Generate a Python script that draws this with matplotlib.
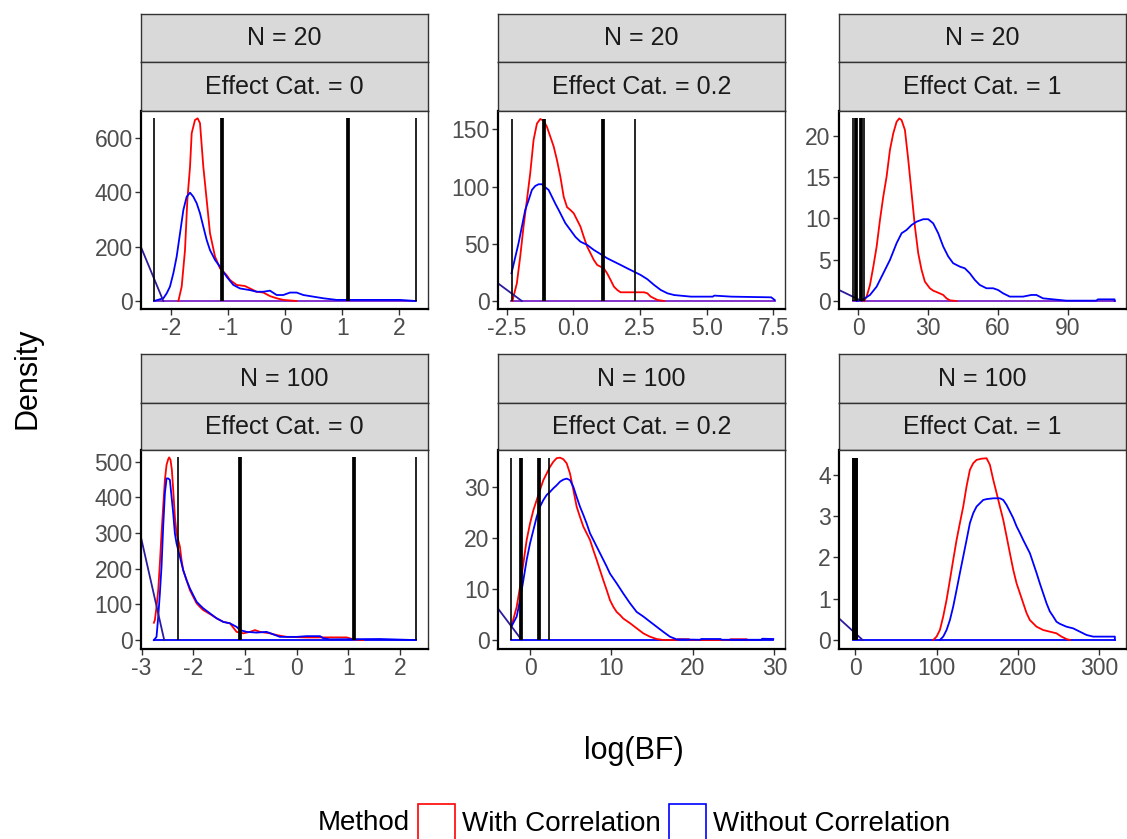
import matplotlib
matplotlib.use("Agg")
import matplotlib.pyplot as plt
from matplotlib.patches import Patch

plt.rcParams['font.family'] = ['Liberation Sans', 'DejaVu Sans']

W, H = 1127, 839

# Bayes factor cut-offs (log scale)
bf_thin = [-2.3, 2.3]
bf_thick = [-1.1, 1.1]

n_labels = ["N = 20", "N = 20", "N = 20", "N = 100", "N = 100", "N = 100"]
effect_labels = ["Effect Cat. = 0", "Effect Cat. = 0.2", "Effect Cat. = 1",
                 "Effect Cat. = 0", "Effect Cat. = 0.2", "Effect Cat. = 1"]

# ---- N = 20, effect 0
p1_red_x = [-1.871, -1.813, -1.755, -1.714, -1.667, -1.638, -1.580, -1.533, -1.492, -1.434, -1.375,
            -1.317, -1.229, -1.142, -1.025, -0.966, -0.850, -0.704, -0.616, -0.499, -0.382, -0.266,
            -0.149, -0.032, 0.20]
p1_red_y = [0, 53, 187, 371, 493, 616, 665, 671, 653, 493, 371, 249, 163, 120, 95, 77, 59, 55, 46,
            34, 31, 18, 10, 4, 0]
p1_blue_x = [-2.298, -2.134, -2.076, -2.018, -1.959, -1.901, -1.842, -1.784, -1.726, -1.667, -1.609,
             -1.550, -1.492, -1.434, -1.375, -1.317, -1.229, -1.142, -1.025, -0.908, -0.791, -0.616,
             -0.499, -0.382, -0.266, -0.149, -0.032, 0.085, 0.201, 0.318, 0.493, 0.669, 0.902,
             1.253, 2.012, 2.286]
p1_blue_y = [0, 10, 28, 53, 102, 163, 249, 334, 383, 398, 383, 359, 322, 273, 224, 187, 151, 126,
             89, 59, 46, 40, 34, 34, 38, 22, 22, 31, 31, 22, 16, 10, 4, 4, 4, 0]
p1_diag_x = [-2.53, -2.135]
p1_diag_y = [200, 0]
p1_base = [-2.298, 2.286]

# ---- N = 20, effect 0.2
p2_red_x = [-2.286, -2.249, -2.123, -1.997, -1.872, -1.746, -1.621, -1.495, -1.369, -1.244, -1.118,
            -0.992, -0.867, -0.741, -0.616, -0.490, -0.364, -0.239, -0.113, 0.013, 0.138, 0.264,
            0.389, 0.515, 0.641, 0.766, 0.892, 1.018, 1.143, 1.269, 1.394, 1.520, 1.646, 1.771,
            2.651, 2.776, 2.902, 3.153, 3.405]
p2_red_y = [0, 3.8, 15.4, 38.7, 65, 88, 111.6, 140.7, 155, 159, 157.6, 152, 143.6, 135, 123, 108.7,
            91, 82, 79.5, 76.6, 70.8, 65, 56, 47.5, 41.7, 35.8, 31.5, 30, 28.5, 24, 18.4, 12.5, 9.6,
            7.6, 7.6, 6.7, 3.8, 0.9, 0]
p2_blue_x = [-2.324, -2.060, -1.809, -1.683, -1.558, -1.432, -1.307, -1.181, -1.055, -0.930, -0.804,
             -0.678, -0.553, -0.427, -0.302, -0.113, 0.075, 0.264, 0.515, 0.766, 1.018, 1.269, 1.520,
             1.771, 2.023, 2.274, 2.525, 2.776, 3.028, 3.279, 3.530, 3.781, 4.410, 5.226, 5.289,
             5.917, 7.425, 7.550]
p2_blue_y = [24.2, 50.4, 79.5, 88, 97, 100.5, 102, 102, 99.3, 97, 91, 85, 79.5, 73.7, 68, 62, 56,
             51.8, 49, 44.6, 41, 37.3, 34.4, 31.5, 28.5, 25.6, 22.7, 19, 14, 9.6, 6.7, 5.2, 3.8,
             3.8, 4.7, 3.8, 3.2, 0.9]
p2_diag_x = [-2.83, -1.935]
p2_diag_y = [15.4, 0]
p2_base = [-2.324, 7.55]

# ---- N = 20, effect 1
p3_red_x = [2.43, 3.57, 5.0, 6.43, 7.86, 9.29, 10.71, 12.14, 13.57, 15.0, 16.43, 17.57, 18.57, 20.0,
            21.43, 22.86, 24.29, 25.71, 27.14, 28.57, 30.71, 32.14, 34.29, 36.43, 37.86, 39.29, 42.1]
p3_red_y = [0, 0.53, 1.94, 4.16, 6.59, 9.82, 12.65, 15.07, 18.3, 20.3, 21.7, 22.1, 21.9, 20.7, 17.1,
            13.05, 9.0, 5.78, 3.76, 2.34, 1.54, 1.25, 1.0, 0.73, 0.32, 0.08, 0]
p3_blue_x = [-0.71, 2.14, 5.0, 7.86, 10.71, 13.57, 16.43, 18.57, 20.71, 22.86, 25.0, 27.86, 30.0,
             32.14, 34.29, 36.43, 38.57, 40.71, 43.57, 45.71, 47.86, 50.0, 52.14, 55.0, 57.86, 60.0,
             62.14, 65.0, 70.71, 74.29, 76.43, 79.29, 83.57, 89.29, 102.1, 102.9, 110.0, 110.0]
p3_blue_y = [0, 0.2, 0.73, 1.74, 3.35, 4.97, 7.0, 8.2, 8.6, 9.2, 9.6, 9.9, 9.9, 9.4, 8.2, 6.6, 5.4,
             4.57, 4.16, 3.96, 3.35, 2.55, 1.94, 1.54, 1.54, 1.33, 0.93, 0.53, 0.53, 0.73, 0.73,
             0.32, 0.2, 0.04, 0.04, 0.2, 0.2, 0]
p3_diag_x = [-8.3, 1.5]
p3_diag_y = [1.33, 0]
p3_base = [-2.1, 110.0]

# ---- N = 100, effect 0
p4_red_x = [-2.761, -2.742, -2.710, -2.677, -2.645, -2.613, -2.581, -2.548, -2.516, -2.484, -2.465,
            -2.439, -2.413, -2.387, -2.355, -2.323, -2.290, -2.258, -2.226, -2.194, -2.129, -2.065,
            -2.0, -1.935, -1.871, -1.806, -1.677, -1.548, -1.419, -1.290, -1.161, -1.032, -0.903,
            -0.806, -0.710, -0.516, -0.387, -0.194, 0.194, 0.645, 0.968, 1.097, 1.29]
p4_red_y = [48.6, 56, 93, 140, 215, 299, 374, 449, 491, 507, 512, 505, 477, 421, 346, 299, 280, 262,
            224, 196, 168, 140, 121.5, 103, 93, 84, 73, 61, 51, 47, 23, 19, 23, 28, 23, 19, 14, 9,
            7.5, 7.5, 7.5, 2, 0]
p4_blue_x = [-2.761, -2.710, -2.677, -2.645, -2.613, -2.581, -2.548, -2.516, -2.484, -2.452, -2.419,
             -2.387, -2.355, -2.323, -2.258, -2.194, -2.129, -2.065, -2.0, -1.935, -1.871, -1.806,
             -1.677, -1.548, -1.419, -1.290, -1.161, -1.097, -0.968, -0.774, -0.581, -0.452, -0.323,
             0.0, 0.194, 0.452, 0.516, 0.645, 1.613, 2.303]
p4_blue_y = [0, 9, 65, 131, 206, 318, 411, 453, 453, 449, 402, 355, 299, 271, 234, 196, 168, 145,
             126, 107.5, 98, 89, 75, 61, 51, 47, 37, 28, 23, 21, 23, 16, 9, 9, 11, 11, 5, 2, 3, 0]
p4_diag_x = [-3.02, -2.561]
p4_diag_y = [294, 0]
p4_base = [-2.761, 2.303]

# ---- N = 100, effect 0.2
p5_red_x = [-2.29, -1.636, -1.227, -0.818, -0.409, 0.0, 0.409, 0.818, 1.227, 1.636, 2.045, 2.454,
            2.863, 3.272, 3.681, 4.090, 4.499, 4.908, 5.317, 5.726, 6.135, 6.544, 6.953, 7.362,
            7.771, 8.180, 8.589, 8.998, 9.407, 9.816, 10.225, 10.634, 11.043, 11.452, 12.27, 13.09,
            13.91, 14.72, 15.54, 16.36, 18.0, 18.1, 19.5, 19.6, 24.5, 24.6, 26.6, 26.7]
p5_red_y = [2.6, 6.5, 10.4, 15.0, 19.6, 22.8, 25.4, 27.4, 29.4, 31.3, 32.6, 33.9, 34.9, 35.6, 35.7,
            35.4, 34.6, 32.6, 29.4, 26.1, 24.1, 22.2, 20.9, 19.6, 17.6, 15.7, 13.7, 11.7, 9.8, 7.8,
            6.5, 5.5, 4.9, 4.2, 3.3, 2.3, 1.3, 0.65, 0.2, 0, 0, 0.15, 0.15, 0, 0, 0.15, 0.15, 0]
p5_blue_x = [-2.29, -1.636, -1.227, -0.818, -0.409, 0.0, 0.409, 0.818, 1.227, 1.636, 2.045, 2.454,
             2.863, 3.272, 3.681, 4.090, 4.499, 4.908, 5.317, 5.726, 6.135, 6.544, 6.953, 7.362,
             7.771, 8.180, 8.589, 8.998, 9.407, 9.816, 10.634, 11.452, 12.27, 13.09, 13.91, 14.72,
             15.54, 16.36, 17.18, 17.99, 20.9, 21.0, 23.4, 23.5, 28.4, 28.5, 29.86]
p5_blue_y = [2.6, 4.6, 7.8, 11.7, 15.7, 18.9, 21.5, 24.1, 26.1, 27.4, 28.4, 29.0, 29.7, 30.3, 31.0,
             31.4, 31.6, 31.3, 30.0, 28.0, 26.1, 24.5, 22.8, 20.9, 19.6, 18.3, 17.0, 15.7, 14.4,
             13.0, 11.1, 9.1, 7.2, 5.5, 4.6, 3.6, 2.6, 1.6, 0.65, 0.13, 0.05, 0.2, 0.2, 0.05, 0.05,
             0.25, 0.2]
p5_diag_x = [-3.95, -1.02]
p5_diag_y = [6.2, 0]
p5_base = [-2.29, 29.86]

# ---- N = 100, effect 1
p6_red_x = [95.9, 100.0, 104.1, 108.2, 112.3, 116.4, 120.5, 124.6, 128.7, 132.8, 136.9, 141.0, 145.1,
            149.2, 155.3, 161.5, 165.6, 169.7, 173.8, 177.9, 182.0, 186.1, 190.2, 194.3, 198.4,
            202.5, 206.6, 210.7, 214.8, 223.0, 231.1, 239.3, 247.5, 253.7, 259.8, 263.9]
p6_red_y = [0, 0.08, 0.24, 0.57, 0.97, 1.45, 1.94, 2.42, 2.83, 3.23, 3.72, 4.12, 4.28, 4.36, 4.39,
            4.40, 4.24, 3.88, 3.56, 3.23, 2.91, 2.51, 2.10, 1.70, 1.37, 1.13, 0.89, 0.65, 0.48, 0.32,
            0.24, 0.20, 0.16, 0.08, 0.02, 0]
p6_blue_x = [104.1, 108.2, 112.3, 116.4, 120.5, 124.6, 128.7, 132.8, 136.9, 141.0, 145.1, 149.2,
             153.3, 157.4, 161.5, 169.7, 177.9, 182.0, 186.1, 190.2, 194.3, 198.4, 202.5, 206.6,
             210.7, 214.8, 218.9, 223.0, 227.0, 231.1, 235.2, 239.3, 243.4, 247.5, 251.6, 259.8,
             268.0, 276.2, 284.4, 292.6, 319.3, 319.3]
p6_blue_y = [0, 0.08, 0.24, 0.48, 0.81, 1.21, 1.62, 2.02, 2.42, 2.83, 3.07, 3.23, 3.31, 3.39, 3.41,
             3.43, 3.43, 3.39, 3.27, 3.11, 2.95, 2.75, 2.59, 2.42, 2.26, 2.10, 1.86, 1.62, 1.37, 1.13,
             0.89, 0.69, 0.57, 0.44, 0.39, 0.32, 0.28, 0.20, 0.12, 0.08, 0.08, 0]
p6_diag_x = [-20.5, 9.0]
p6_diag_y = [0.53, 0]
p6_base = [-2.5, 319.3]

red_x = [p1_red_x, p2_red_x, p3_red_x, p4_red_x, p5_red_x, p6_red_x]
red_y = [p1_red_y, p2_red_y, p3_red_y, p4_red_y, p5_red_y, p6_red_y]
blue_x = [p1_blue_x, p2_blue_x, p3_blue_x, p4_blue_x, p5_blue_x, p6_blue_x]
blue_y = [p1_blue_y, p2_blue_y, p3_blue_y, p4_blue_y, p5_blue_y, p6_blue_y]
diag_x = [p1_diag_x, p2_diag_x, p3_diag_x, p4_diag_x, p5_diag_x, p6_diag_x]
diag_y = [p1_diag_y, p2_diag_y, p3_diag_y, p4_diag_y, p5_diag_y, p6_diag_y]
bases = [p1_base, p2_base, p3_base, p4_base, p5_base, p6_base]
seg_tops = [671, 159, 22.1, 512, 35.7, 4.40]

xlims = [(-2.526, 2.503), (-2.83, 7.94), (-8.3, 114.9), (-3.01, 2.54), (-3.93, 31.3), (-20, 333)]
ylims = [(-29.4, 698), (-7, 166), (-0.97, 23.0), (-25, 532.7), (-1.76, 37.2), (-0.22, 4.6)]
xticks = [[-2, -1, 0, 1, 2], [-2.5, 0, 2.5, 5, 7.5], [0, 30, 60, 90],
          [-3, -2, -1, 0, 1, 2], [0, 10, 20, 30], [0, 100, 200, 300]]
xticklabels = [["-2", "-1", "0", "1", "2"], ["-2.5", "0.0", "2.5", "5.0", "7.5"],
               ["0", "30", "60", "90"], ["-3", "-2", "-1", "0", "1", "2"],
               ["0", "10", "20", "30"], ["0", "100", "200", "300"]]
yticks = [[0, 200, 400, 600], [0, 50, 100, 150], [0, 5, 10, 15, 20],
          [0, 100, 200, 300, 400, 500], [0, 10, 20, 30], [0, 1, 2, 3, 4]]

base_colors = ['#7a22c8', '#7a22c8', '#7a22c8', 'blue', 'blue', 'blue']

fig = plt.figure(figsize=(W / 100, H / 100), dpi=100)


def px_axes(x0, y0, x1, y1):
    return fig.add_axes([x0 / W, 1 - y1 / H, (x1 - x0) / W, (y1 - y0) / H])


cols = [(141, 428), (498, 785), (839, 1126)]
rows = [(14, 62, 111, 309), (354, 403, 450, 649)]

for i in range(6):
    c0, c1 = cols[i % 3]
    s0, s1, p0, p1 = rows[i // 3]

    # strips
    for (t0, t1, lab) in [(s0, s1, n_labels[i]), (s1, p0, effect_labels[i])]:
        sax = px_axes(c0, t0, c1, t1)
        sax.set_facecolor('#D9D9D9')
        sax.set_xticks([])
        sax.set_yticks([])
        for sp in sax.spines.values():
            sp.set_color('#333333')
            sp.set_linewidth(1.0)
        sax.text(0.5, 0.5, lab, ha='center', va='center', fontsize=18, color='#1A1A1A',
                 transform=sax.transAxes)

    ax = px_axes(c0, p0, c1, p1)
    ax.plot(bases[i], [0, 0], color=base_colors[i], lw=1.3)
    ax.plot(red_x[i], red_y[i], color='red', lw=1.3)
    ax.plot(blue_x[i], blue_y[i], color='blue', lw=1.3)
    ax.plot(diag_x[i], diag_y[i], color='#2B1B9E', lw=1.3)
    ax.vlines(bf_thin, 0, seg_tops[i], colors='black', lw=1.2)
    ax.vlines(bf_thick, 0, seg_tops[i], colors='black', lw=2.7)

    ax.set_xlim(*xlims[i])
    ax.set_ylim(*ylims[i])
    ax.set_xticks(xticks[i])
    ax.set_xticklabels(xticklabels[i])
    ax.set_yticks(yticks[i])
    ax.tick_params(direction='out', length=4, width=1, color='#333333', labelcolor='#4D4D4D',
                   labelsize=16.5, pad=2)
    for side in ['top', 'right']:
        ax.spines[side].set_color('#333333')
        ax.spines[side].set_linewidth(1.0)
    for side in ['left', 'bottom']:
        ax.spines[side].set_color('black')
        ax.spines[side].set_linewidth(1.6)

fig.text(28 / W, 1 - 378 / H, "Density", rotation=90, ha='center', va='center', fontsize=22)
fig.text(634 / W, 1 - 751 / H, "log(BF)", ha='center', va='center', fontsize=22)

fig.text(318 / W, 1 - 830 / H, "Method", ha='left', va='baseline', fontsize=20)
handles = [Patch(facecolor='none', edgecolor='red', lw=1.2, label='With Correlation'),
           Patch(facecolor='none', edgecolor='blue', lw=1.2, label='Without Correlation')]
fig.legend(handles=handles, loc='lower left', bbox_to_anchor=(418 / W, -1 / H), ncol=2,
           frameon=False, fontsize=20, handlelength=1.33, handleheight=1.6, handletextpad=0.25,
           columnspacing=0.3, borderpad=0, borderaxespad=0)

fig.savefig('out.png', dpi=100)
